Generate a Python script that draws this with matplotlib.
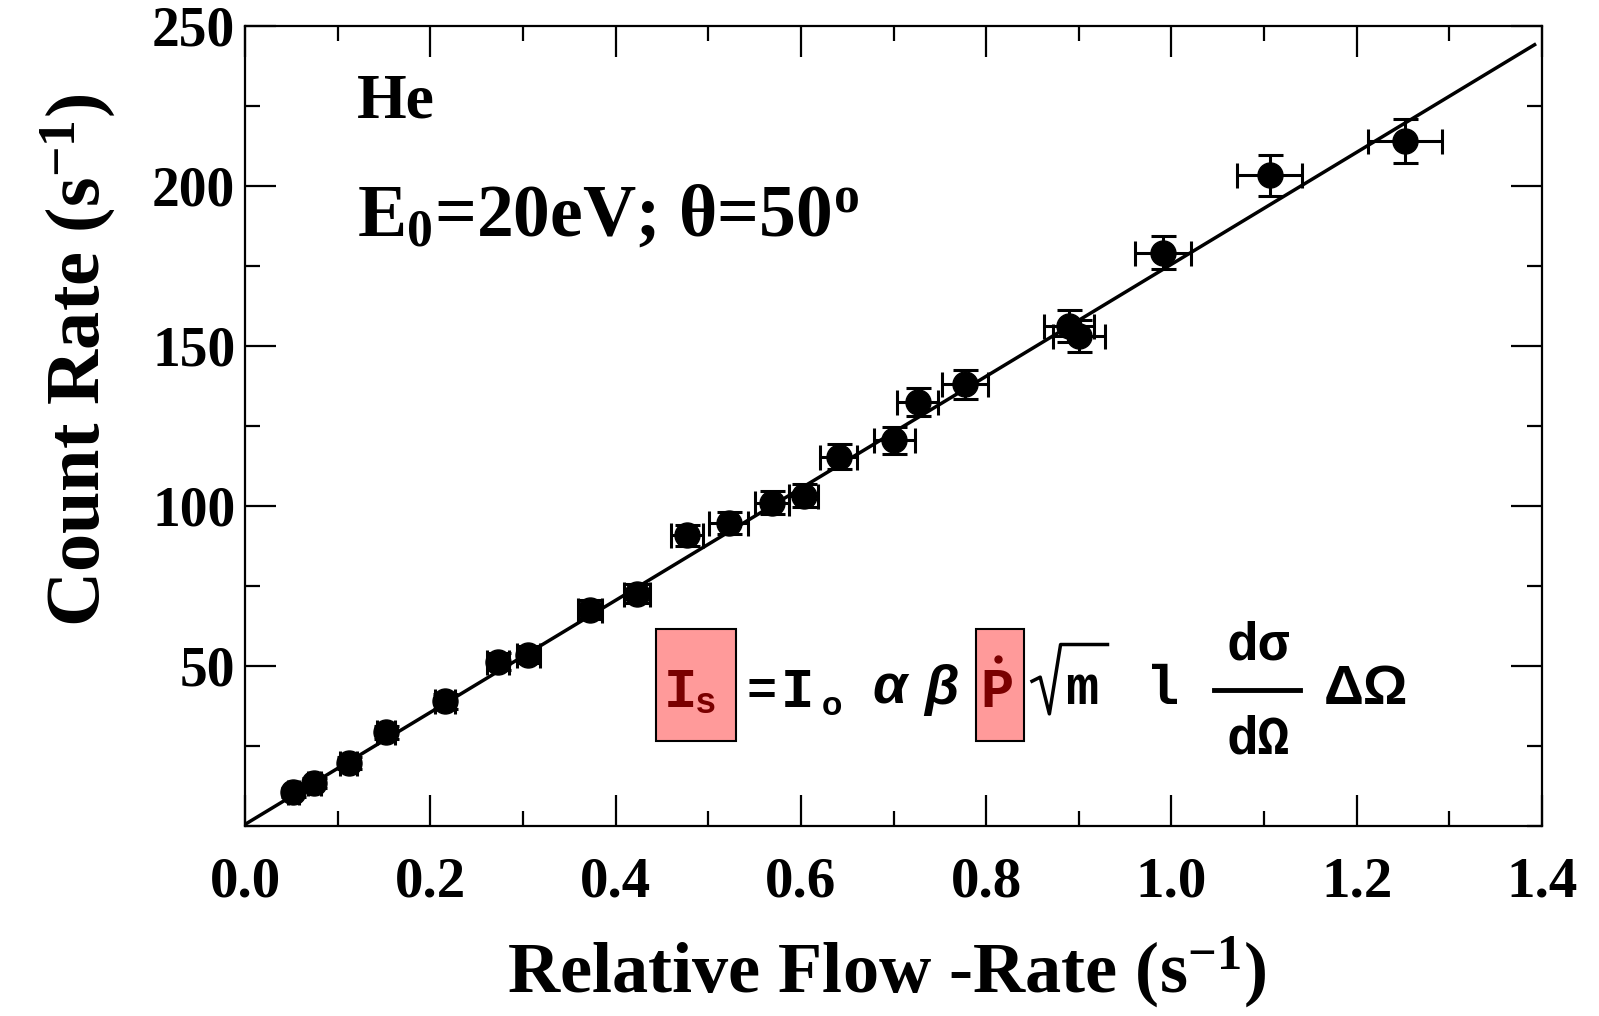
import matplotlib.pyplot as plt
import matplotlib.patches as patches
from matplotlib.lines import Line2D
from matplotlib.ticker import MultipleLocator

plt.rcParams['font.family'] = ['Liberation Serif', 'DejaVu Sans']
plt.rcParams['font.weight'] = 'bold'
plt.rcParams['mathtext.fontset'] = 'custom'
plt.rcParams['mathtext.rm'] = 'Liberation Serif:bold'
plt.rcParams['mathtext.bf'] = 'Liberation Serif:bold'
plt.rcParams['mathtext.it'] = 'Liberation Serif:bold'

# measured points (relative flow rate, count rate)
flow = [0.052, 0.075, 0.112, 0.152, 0.216, 0.273, 0.306, 0.372, 0.423, 0.477, 0.522,
        0.569, 0.603, 0.641, 0.701, 0.726, 0.777, 0.889, 0.900, 0.991, 1.106, 1.252]
counts = [10.5, 13.4, 19.7, 29.3, 38.9, 51.3, 53.5, 67.5, 72.6, 90.8, 94.6,
          101.0, 103.2, 115.3, 120.4, 132.5, 137.9, 156.1, 152.9, 179.0, 203.2, 214.0]
flow_err = [0.006, 0.007, 0.009, 0.010, 0.011, 0.012, 0.012, 0.013, 0.014, 0.017, 0.021,
            0.018, 0.016, 0.020, 0.022, 0.022, 0.025, 0.027, 0.028, 0.030, 0.035, 0.040]
counts_err = [1.5, 1.6, 1.8, 2.0, 2.3, 2.6, 2.7, 3.0, 3.1, 3.3, 3.5,
              3.6, 3.7, 3.9, 4.1, 4.3, 4.4, 5.0, 5.0, 5.2, 6.5, 6.8]

# linear fit line
fit_x = [0.0, 1.392]
fit_y = [0.5, 244.0]

W, H = 1599, 1016
fig = plt.figure(figsize=(W / 100, H / 100), dpi=100)
ax = fig.add_axes([245 / W, 1 - 826 / H, 1297 / W, 800.5 / H])

ax.plot(fit_x, fit_y, color='black', lw=2.5, zorder=2)
ax.errorbar(flow, counts, xerr=flow_err, yerr=counts_err, fmt='o', color='black',
            ms=18, elinewidth=2.2, capsize=9, capthick=2.2, zorder=3)

ax.set_xlim(0, 1.4)
ax.set_ylim(0, 250)
ax.xaxis.set_minor_locator(MultipleLocator(0.1))
ax.yaxis.set_minor_locator(MultipleLocator(25))
ax.set_yticks([50, 100, 150, 200, 250])
ax.set_xticks([0.0, 0.2, 0.4, 0.6, 0.8, 1.0, 1.2, 1.4])
ax.set_xticklabels(['0.0', '0.2', '0.4', '0.6', '0.8', '1.0', '1.2', '1.4'])
ax.tick_params(which='both', direction='in', top=True, right=True, width=1.6)
ax.tick_params(which='major', length=22)
ax.tick_params(which='minor', length=11)
ax.tick_params(axis='x', labelsize=41, pad=22)
ax.tick_params(axis='y', labelsize=40, pad=7)
for lab in ax.get_xticklabels() + ax.get_yticklabels():
    lab.set_fontweight('bold')
for sp in ax.spines.values():
    sp.set_linewidth(1.6)

fig.text(887 / W, 1 - 992 / H, r'Relative Flow -Rate (s$^{\mathbf{-1}}$)',
         fontsize=52, fontweight='bold', ha='center', va='baseline')
fig.text(78 / W, 1 - 360 / H, r'Count Rate (s$^{\mathbf{-1}}$)', rotation=90,
         fontsize=55, fontweight='bold', ha='center', va='center')

fig.text(357 / W, 1 - 118 / H, 'He', fontsize=46, fontweight='bold', va='baseline')
fig.text(357 / W, 1 - 236 / H, r'E$_\mathbf{0}$=20eV; θ=50$^\mathbf{o}$',
         fontsize=53, fontweight='bold', va='baseline')


# equation, positions taken in reference pixels
def fx(x):
    return x * 1.0198 / W


def fy(y):
    return 1 - y * 1.0198 / H


pink = '#ff9a9a'
dark_red = '#7a0000'
mono = ['Liberation Mono', 'DejaVu Sans Mono']
for x0, x1 in [(643, 722), (957, 1004)]:
    fig.patches.append(patches.Rectangle((fx(x0), fy(727)), fx(x1) - fx(x0), fy(617) - fy(727),
                                         transform=fig.transFigure, facecolor=pink,
                                         edgecolor='black', lw=1.5, zorder=1))

fig.text(fx(651), fy(693), 'I', family=mono, fontsize=40, fontweight='bold',
         color=dark_red, va='baseline')
fig.text(fx(681), fy(699), 's', family=mono, fontsize=26, fontweight='bold',
         color=dark_red, va='baseline')
fig.text(fx(732), fy(692), '=', family=mono, fontsize=36, fontweight='bold', va='baseline')
fig.text(fx(766), fy(693), 'I', family=mono, fontsize=40, fontweight='bold', va='baseline')
fig.text(fx(806), fy(701), 'o', family=['Liberation Sans'], fontsize=24, va='baseline')
fig.text(fx(856), fy(690), 'α', family=['Liberation Sans'], style='italic',
         fontsize=40, va='baseline')
fig.text(fx(906), fy(690), 'β', family=['Liberation Sans'], style='italic',
         fontsize=40, va='baseline')
fig.text(fx(961), fy(693), 'P', family=mono, fontsize=40, fontweight='bold',
         color=dark_red, va='baseline')
fig.lines.append(Line2D([fx(979)], [fy(646)], transform=fig.transFigure, marker='o',
                        ms=5, color=dark_red, lw=0))
# radical sign with its bar
fig.lines.append(Line2D([fx(1012), fx(1020), fx(1029), fx(1040), fx(1086)],
                        [fy(668), fy(664), fy(700), fy(632), fy(632)],
                        transform=fig.transFigure, color='black', lw=2.5))
fig.text(fx(1044), fy(690), 'm', family=mono, fontsize=40, fontweight='bold', va='baseline')
fig.text(fx(1124), fy(690), 'l', family=mono, fontsize=40, fontweight='bold', va='baseline')
fig.lines.append(Line2D([fx(1190), fx(1275)], [fy(677), fy(677)], transform=fig.transFigure,
                        color='black', lw=3.5))
fig.text(fx(1234), fy(647), 'dσ', family=mono + ['DejaVu Sans'], fontsize=38,
         fontweight='bold', ha='center', va='baseline')
fig.text(fx(1234), fy(739), 'dΩ', family=mono + ['DejaVu Sans'], fontsize=38,
         fontweight='bold', ha='center', va='baseline')
fig.text(fx(1298), fy(690), 'ΔΩ', family=['Liberation Sans'], fontsize=40, va='baseline')

fig.savefig('out.png', dpi=100)
